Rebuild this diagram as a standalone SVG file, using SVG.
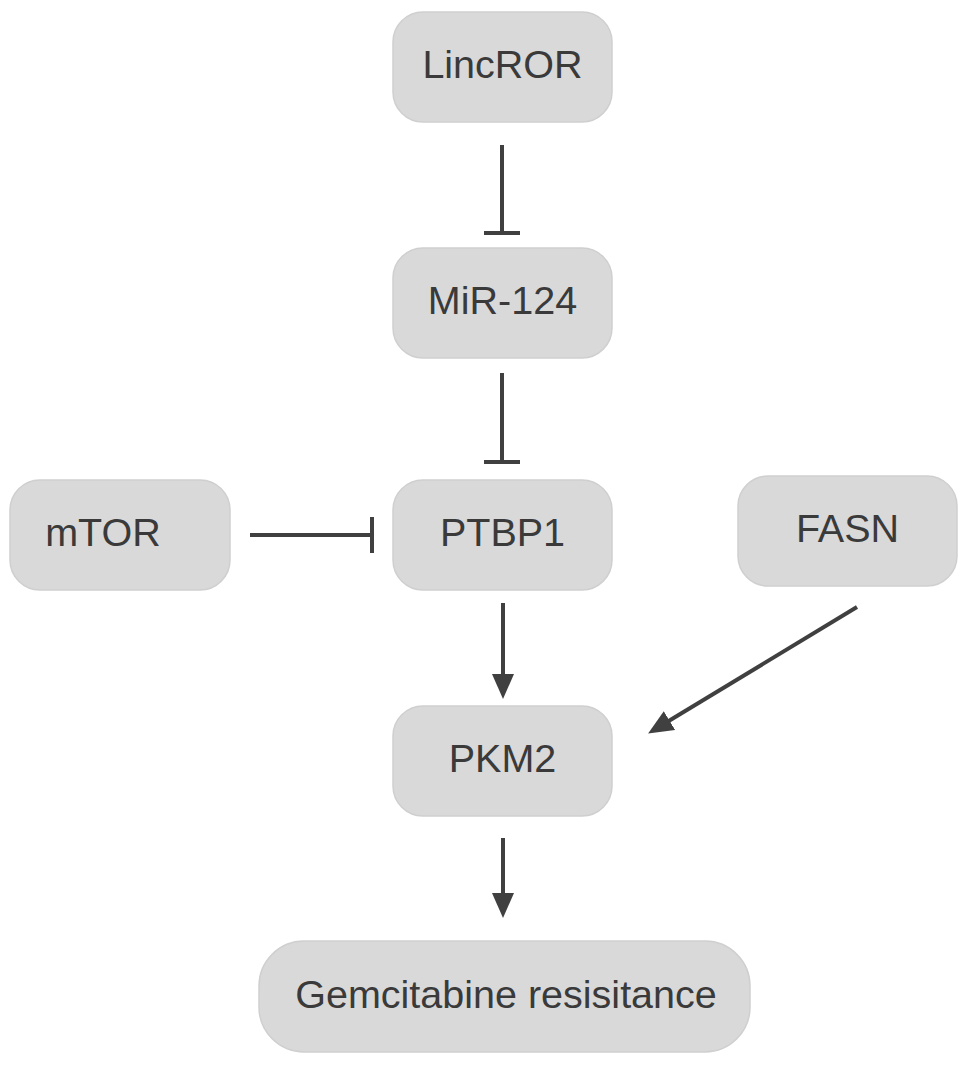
<svg xmlns="http://www.w3.org/2000/svg" width="969" height="1065" viewBox="0 0 969 1065">
<defs>
<style>
.node rect{fill:#d9d9d9;stroke:#cfcfcf;stroke-width:1.5}
.node text{font-family:"Liberation Sans",Arial,sans-serif;font-size:39.5px;fill:#3a3a3a;text-anchor:middle}
.conn line{stroke:#404040;stroke-width:4;fill:none}
</style>
<marker id="arrow" markerUnits="userSpaceOnUse" markerWidth="26" markerHeight="24" viewBox="0 0 26 24" refX="14" refY="12" orient="auto">
<path d="M0,1 L25,12 L0,23 z" fill="#404040"/>
</marker>
</defs>
<rect width="969" height="1065" fill="#ffffff"/>
<g id="connectors" class="conn">
<line x1="502" y1="145" x2="502" y2="233"/>
<line x1="484" y1="233" x2="520" y2="233"/>
<line x1="502" y1="373" x2="502" y2="462"/>
<line x1="484" y1="462" x2="520" y2="462"/>
<line x1="250" y1="535" x2="372" y2="535"/>
<line x1="372" y1="517" x2="372" y2="553"/>
<line x1="503" y1="603" x2="503" y2="688" marker-end="url(#arrow)"/>
<line x1="857" y1="607" x2="657.5" y2="727.8" marker-end="url(#arrow)"/>
<line x1="503" y1="838" x2="503" y2="907" marker-end="url(#arrow)"/>
</g>
<g id="LincROR" class="node"><rect x="393" y="12" width="219" height="110" rx="30"/><text x="502.5" y="78">LincROR</text></g>
<g id="MiR-124" class="node"><rect x="393" y="248" width="219" height="110" rx="30"/><text x="502.5" y="314">MiR-124</text></g>
<g id="PTBP1" class="node"><rect x="393" y="480" width="219" height="110" rx="30"/><text x="502.5" y="546">PTBP1</text></g>
<g id="mTOR" class="node"><rect x="10" y="480" width="220" height="110" rx="30"/><text x="103" y="546">mTOR</text></g>
<g id="FASN" class="node"><rect x="738" y="476" width="219" height="110" rx="30"/><text x="847.5" y="542">FASN</text></g>
<g id="PKM2" class="node"><rect x="393" y="706" width="219" height="110" rx="30"/><text x="502.5" y="772">PKM2</text></g>
<g id="Gemcitabine" class="node"><rect x="259" y="941" width="491" height="111" rx="45"/><text x="506" y="1007.5">Gemcitabine resisitance</text></g>
</svg>
